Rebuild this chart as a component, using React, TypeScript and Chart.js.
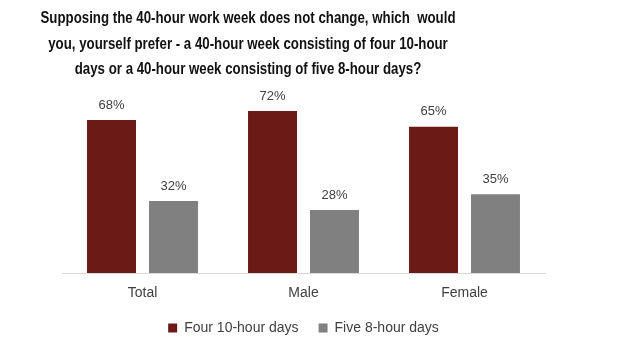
import React, { useEffect, useRef } from "react";
import { Chart, registerables } from "chart.js";

Chart.register(...registerables);

const categories = ["Total", "Male", "Female"];
const fourTenHourDays = [68, 72, 65];
const fiveEightHourDays = [32, 28, 35];
const seriesNames = ["Four 10-hour days", "Five 8-hour days"];
const titleLines = [
  "Supposing the 40-hour work week does not change, which  would",
  "you, yourself prefer - a 40-hour week consisting of four 10-hour",
  "days or a 40-hour week consisting of five 8-hour days?",
];

const RED = "#6b1a15";
const GREY = "#808080";
const TEXT = "#404040";
const SANS = '"Liberation Sans", Arial, sans-serif';

const titlePlugin = {
  id: "customTitle",
  afterDraw(chart: any) {
    const ctx = chart.ctx;
    ctx.save();
    ctx.font = `bold 16px ${SANS}`;
    ctx.fillStyle = "#111111";
    ctx.textAlign = "center";
    ctx.textBaseline = "middle";
    const sx = 415 / ctx.measureText(titleLines[0]).width;
    const ys = [19, 45, 70];
    titleLines.forEach((l, i) => {
      ctx.save();
      ctx.translate(248, ys[i]);
      ctx.scale(sx, 1);
      ctx.fillText(l, 0, 0);
      ctx.restore();
    });
    ctx.restore();
  },
};

const labelPlugin = {
  id: "valueLabels",
  afterDatasetsDraw(chart: any) {
    const ctx = chart.ctx;
    ctx.save();
    ctx.font = `13px ${SANS}`;
    ctx.fillStyle = TEXT;
    ctx.textAlign = "center";
    ctx.textBaseline = "middle";
    chart.data.datasets.forEach((ds: any, di: number) => {
      const meta = chart.getDatasetMeta(di);
      meta.data.forEach((el: any, i: number) => {
        ctx.fillText(ds.data[i] + "%", el.x, el.y - 15);
      });
    });
    ctx.restore();
  },
};

export default function App() {
  const ref = useRef<HTMLCanvasElement | null>(null);
  useEffect(() => {
    document.body.style.margin = "0";
    const chart = new Chart(ref.current as HTMLCanvasElement, {
      type: "bar",
      data: {
        labels: categories,
        datasets: [
          { label: seriesNames[0], data: fourTenHourDays, backgroundColor: RED },
          { label: seriesNames[1], data: fiveEightHourDays, backgroundColor: GREY },
        ],
      },
      options: {
        animation: false,
        responsive: false,
        devicePixelRatio: 1,
        layout: { padding: { left: 62, right: 90, top: 93, bottom: 12 } },
        datasets: { bar: { categoryPercentage: 0.77, barPercentage: 0.79 } } as any,
        scales: {
          x: {
            grid: { display: false, drawTicks: false },
            border: { display: true, color: "#d9d9d9", width: 1 },
            ticks: { color: TEXT, font: { family: SANS, size: 14, lineHeight: 1 }, padding: 13 },
            afterFit: (s: any) => {
              s.height = 28;
            },
          },
          y: { display: false, min: 0, max: 80 },
        },
        plugins: {
          legend: {
            position: "bottom",
            labels: {
              color: TEXT,
              font: { family: SANS, size: 14 },
              boxWidth: 9,
              boxHeight: 9,
              padding: 20,
            },
          },
          tooltip: { enabled: false },
          title: { display: false },
        },
      },
      plugins: [titlePlugin, labelPlugin],
    });
    return () => chart.destroy();
  }, []);
  return <canvas ref={ref} width={635} height={357} style={{ display: "block" }} />;
}
